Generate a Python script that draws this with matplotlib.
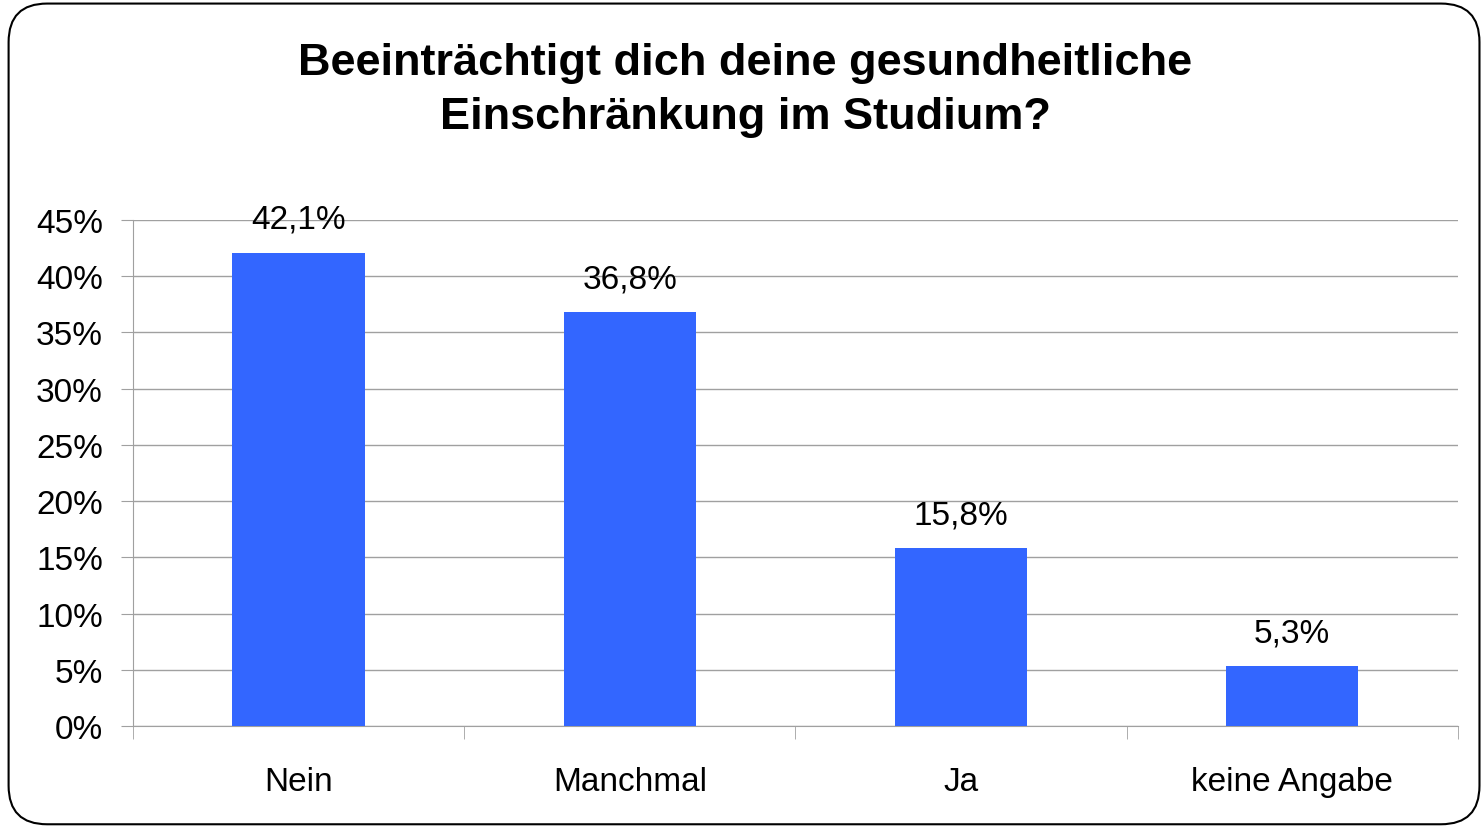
import numpy as np
import matplotlib.pyplot as plt
from matplotlib.patches import FancyBboxPatch

# Daten
kategorien = ['Nein', 'Manchmal', 'Ja', 'keine Angabe']
anteile = [42.1, 36.8, 15.8, 5.3]  # Prozent
beschriftung = ['42,1%', '36,8%', '15,8%', '5,3%']
y_ticks = [0, 5, 10, 15, 20, 25, 30, 35, 40, 45]

plt.rcParams['font.family'] = ['Liberation Sans', 'DejaVu Sans']

fig = plt.figure(figsize=(14.82, 8.29), dpi=100)

# abgerundeter Rahmen (hinter den Achsen)
rahmen = FancyBboxPatch((0.0058, 0.0045), 0.9925, 0.990, transform=fig.transFigure,
                        boxstyle='round,pad=0,rounding_size=0.026', mutation_aspect=1482/829,
                        fc='white', ec='black', lw=1.5, zorder=-1)
fig.patches.append(rahmen)

ax = fig.add_axes([0.0897, 0.123, 0.894, 0.6105])
ax.patch.set_alpha(0)
x = np.arange(len(kategorien))
ax.bar(x, anteile, width=0.4, color='#3366FF', zorder=3)

for xi, v, s in zip(x, anteile, beschriftung):
    ax.annotate(s, (xi, v), xytext=(0, 24), textcoords='offset points',
                ha='center', va='center', fontsize=24)

ax.set_xlim(-0.5, len(kategorien) - 0.5)
ax.set_ylim(0, 45)
ax.set_yticks(y_ticks)
ax.set_yticklabels([f'{t}%' for t in y_ticks], fontsize=24)
ax.set_xticks(x)
ax.set_xticklabels(kategorien, fontsize=24)
ax.set_xticks(np.arange(-0.5, len(kategorien)), minor=True)
ax.tick_params(axis='x', which='major', length=0, pad=29)
ax.tick_params(axis='x', which='minor', length=9, color='#A0A0A0', direction='out')
ax.tick_params(axis='y', length=8.6, color='#A0A0A0', pad=13)
ax.grid(axis='y', color='#A0A0A0', lw=1, zorder=0)
for s in ['top', 'right']:
    ax.spines[s].set_visible(False)
for s in ['left', 'bottom']:
    ax.spines[s].set_color('#A0A0A0')

fig.text(0.503, 0.891, 'Beeinträchtigt dich deine gesundheitliche\nEinschränkung im Studium?',
         ha='center', va='center', fontsize=32.5, fontweight='bold', linespacing=1.42)

fig.savefig('out.png', dpi=100)
